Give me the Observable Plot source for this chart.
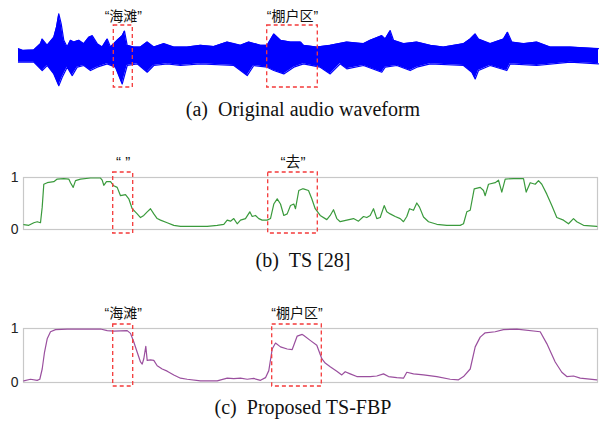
<!DOCTYPE html>
<html><head><meta charset="utf-8">
<script src="https://cdn.jsdelivr.net/npm/d3@7"></script>
<script src="https://cdn.jsdelivr.net/npm/@observablehq/plot@0.6"></script>
<style>
body{margin:0;background:#fff;}
#root{position:relative;width:606px;height:424px;overflow:hidden;background:#fff;}
.panel{position:absolute;left:0;}
.cap{position:absolute;left:0;width:606px;text-align:center;font-family:"Liberation Serif","Times New Roman",serif;font-size:20px;line-height:20px;color:#111;white-space:pre;}
</style></head><body><div id="root"></div>
<script>
// ---- (a) waveform envelope (time in frames, amplitude -1..1)
const waveUpperTime = [-5,-0.7,10.3,17,18.7,23.7,30.3,33,35.3,37.7,40.3,43.7,47,50.3,55.3,60.3,65.3,68.7,73.7,78.7,83.7,87,93.7,98.7,101,103.7,110.3,117,123.7,130.3,140.3,150.3,163.7,177,190.3,203.7,210.3,217,225.3,237,243.7,250.3,257,267,277,280,293.3,306.7,323.3,340,346.7,358.3,361.7,366.7,370,380,393.3,406.7,420,440,446.7,451.7,455,466.7,480,484,488.3,500,513.3,526.7,546.7,575];
const waveUpper = [0.15,0.11,0.12,0.27,0.38,0.23,0.42,0.66,0.98,0.74,0.35,0.19,0.35,0.31,0.35,0.27,0.42,0.46,0.27,0.19,0.38,0.19,0.35,0.46,0.57,0.23,0.19,0.19,0.31,0.19,0.27,0.19,0.19,0.23,0.20,0.31,0.27,0.23,0.31,0.23,0.23,0.50,0.35,0.31,0.31,0.23,0.19,0.23,0.31,0.27,0.35,0.46,0.38,0.58,0.35,0.27,0.31,0.23,0.19,0.27,0.38,0.50,0.38,0.27,0.38,0.54,0.31,0.27,0.31,0.19,0.19,0.15];
const waveLowerTime = [-5,10.3,18.7,23.7,30.3,35.3,38.7,43.7,48.7,53.7,60.3,67,73.7,83.7,92,98.7,103.7,113.7,123.7,130.3,143.7,157,177,210.3,223.7,230.3,243.7,250.3,260.3,270.3,280,296.7,306.7,316.7,323.3,340,358.3,361.7,373.3,386.7,393.3,406.7,440,448.3,451.7,455,466.7,483.3,486.7,513.3,546.7,575];
const waveLower = [-0.17,-0.17,-0.37,-0.25,-0.45,-0.73,-0.53,-0.29,-0.49,-0.29,-0.25,-0.37,-0.29,-0.21,-0.29,-0.69,-0.25,-0.21,-0.41,-0.25,-0.21,-0.25,-0.21,-0.25,-0.49,-0.25,-0.29,-0.37,-0.45,-0.29,-0.21,-0.29,-0.45,-0.21,-0.33,-0.25,-0.41,-0.29,-0.25,-0.37,-0.29,-0.21,-0.25,-0.41,-0.57,-0.37,-0.25,-0.37,-0.21,-0.25,-0.17,-0.21];

// ---- (b) TS [28]
const tsTime = [0.3,5.3,10.3,13.7,17,18.7,20.3,23.7,30.3,33.7,40.3,45.3,47,49.7,52,57,67,77,78.7,80.3,83,87,90.3,93.7,97,102,105.3,108.7,113.7,117,120.3,123.7,127,130.3,133.7,137,143.7,150.3,157,170.3,183.7,193.7,200.3,203.7,207,210.3,213.7,217,222,226.3,228.7,232,235.3,238.7,243.7,247,250.3,253.7,257,260.3,263.7,267,270.3,272,275.3,278.7,280,285,288.3,291.7,296.7,303.3,306.7,310,313.3,316.7,323.3,330,335,340,343.3,346.7,350,353.3,356.7,360.7,363.3,366.7,371.7,376.7,380,383.3,386,390,393.3,396,400,405,413.3,423.3,436.7,440,443.3,446.7,450.7,456.7,460,461.7,465,471.7,475,478.3,481.7,490,500,502.7,506.7,511.7,515,518.3,523.3,528.3,533.3,540,545,550,553.3,560,573.3];
const tsValue = [0.095,0.08,0.13,0.15,0.13,0.43,0.87,0.90,0.92,0.97,0.98,0.97,0.90,0.81,0.94,0.97,0.99,0.99,0.95,0.85,0.92,0.92,0.84,0.81,0.65,0.67,0.59,0.40,0.30,0.23,0.27,0.34,0.40,0.30,0.21,0.18,0.13,0.08,0.06,0.06,0.06,0.08,0.10,0.18,0.16,0.21,0.11,0.18,0.21,0.34,0.25,0.27,0.21,0.18,0.18,0.21,0.49,0.59,0.49,0.27,0.30,0.46,0.49,0.40,0.75,0.78,0.78,0.75,0.59,0.40,0.27,0.19,0.27,0.38,0.21,0.15,0.18,0.21,0.16,0.25,0.23,0.27,0.40,0.21,0.23,0.46,0.34,0.30,0.25,0.21,0.15,0.25,0.40,0.37,0.51,0.43,0.24,0.15,0.10,0.08,0.08,0.11,0.34,0.37,0.78,0.81,0.75,0.65,0.87,0.90,0.95,0.72,0.97,0.98,0.98,0.72,0.90,0.87,0.94,0.87,0.68,0.46,0.23,0.18,0.11,0.21,0.15,0.08,0.06];

// ---- (c) Proposed TS-FBP
const fbpTime = [0.3,7,13.7,16.3,18.7,21,23.7,27,32,43.7,77,83.7,90.3,103.7,107,110.3,113.7,117,118.7,120.3,122.3,123.7,127,130.3,133.7,138.7,143.7,150.3,157,163.7,177,193.7,203.7,210.3,217,223.7,230.3,237,242,245.3,248.7,252,257,263.7,268.7,270.3,273.7,278.7,280,286.7,293.3,298.3,301.7,306.7,313.3,318.3,321.7,326.7,333.3,346.7,353.3,360,365,373.3,380,383.3,390,400,413.3,426.7,435,440,446.7,451.7,456.7,461.7,471.7,480,493.3,516.7,523.3,531.7,538.3,543.3,550,556.7,573.3];
const fbpValue = [0.03,0.06,0.04,0.06,0.25,0.56,0.81,0.94,0.98,0.99,0.99,0.96,0.95,0.96,0.91,0.75,0.56,0.38,0.34,0.44,0.67,0.41,0.42,0.41,0.31,0.25,0.21,0.14,0.08,0.06,0.03,0.03,0.08,0.07,0.08,0.06,0.075,0.04,0.09,0.22,0.62,0.73,0.66,0.62,0.61,0.69,0.86,0.89,0.875,0.78,0.69,0.44,0.36,0.29,0.21,0.14,0.20,0.16,0.11,0.11,0.12,0.16,0.11,0.09,0.08,0.19,0.16,0.14,0.11,0.06,0.05,0.11,0.25,0.66,0.84,0.92,0.94,0.98,0.99,0.94,0.72,0.38,0.19,0.11,0.12,0.08,0.05];

// ---- annotation boxes (time intervals) and labels
const waveBoxStart = [90.3, 243.7], waveBoxEnd = [109.3, 294.3];
const waveLabels = ["\u201C海滩\u201D", "\u201C棚户区\u201D"];
const tsBoxStart = [89.7, 244.7], tsBoxEnd = [109.7, 294.3];
const tsLabels = ["\u201C \u201D", "\u201C去\u201D"];
const fbpBoxStart = [89.7, 248.7], fbpBoxEnd = [109.7, 298.3];
const fbpLabels = ["\u201C海滩\u201D", "\u201C棚户区\u201D"];
const yTicks = [0, 1];
const captions = ["(a)\u2002Original audio waveform", "(b)\u2002TS [28]", "(c)\u2002Proposed TS-FBP"];

const zip = (xs, ys) => xs.map((t, i) => ({t, v: ys[i]}));
const boxes = (s, e, l) => s.map((v, i) => ({start: v, end: e[i], label: l[i]}));
const FONT = "'Liberation Sans','Noto Sans CJK SC',sans-serif";
const RED = "#f43a3a";
const BLUE = "#0000ff";

const root = document.getElementById("root");
function place(node, top) { node.classList.add("panel"); node.style.top = top + "px"; root.appendChild(node); }
function caption(text, top) { const d = document.createElement("div"); d.className = "cap"; d.textContent = text; d.style.top = top + "px"; root.appendChild(d); }

// (a)
const up = zip(waveUpperTime, waveUpper), lo = zip(waveLowerTime, waveLower);
const wb = boxes(waveBoxStart, waveBoxEnd, waveLabels);
const pa = Plot.plot({
  width: 606, height: 100,
  marginLeft: 18, marginRight: 8, marginTop: 12.5, marginBottom: 3.5,
  style: {fontFamily: FONT, background: "transparent", color: "#111"},
  x: {domain: [-5, 575], axis: null},
  y: {domain: [-1, 1], axis: null},
  marks: [
    Plot.areaY(up, {x: "t", y1: 0, y2: "v", fill: BLUE}),
    Plot.areaY(lo, {x: "t", y1: "v", y2: 0, fill: BLUE}),
    Plot.lineY(up, {x: "t", y: "v", stroke: BLUE, strokeWidth: 1.2}),
    Plot.lineY(lo, {x: "t", y: "v", stroke: BLUE, strokeWidth: 1.2}),
    Plot.ruleY([0], {stroke: BLUE, strokeWidth: 4}),
    Plot.rect(wb, {x1: "start", x2: "end", insetTop: 12.5, insetBottom: 9.5, fill: "none", stroke: RED, strokeWidth: 1.3, strokeDasharray: "4,3"}),
    Plot.text(wb, {x: d => (d.start + d.end) / 2, text: "label", frameAnchor: "top", dy: -2, fontSize: 14, fill: "#111"})
  ]
});
place(pa, 0);
caption(captions[0], 99);

// (b)
const tb = boxes(tsBoxStart, tsBoxEnd, tsLabels);
const pb = Plot.plot({
  width: 606, height: 100,
  marginLeft: 23, marginRight: 9, marginTop: 37, marginBottom: 11,
  style: {fontFamily: FONT, background: "transparent", color: "#222"},
  x: {domain: [0, 574], axis: null},
  y: {domain: [0, 1], axis: null},
  marks: [
    Plot.frame({stroke: "#c8c8c8", strokeWidth: 1.2}),
    Plot.axisY(yTicks, {label: null, tickSize: 0, tickPadding: 5, fontSize: 14, tickFormat: d => String(d)}),
    Plot.lineY(zip(tsTime, tsValue), {x: "t", y: "v", stroke: "#3a9a3c", strokeWidth: 1.2}),
    Plot.rect(tb, {x1: "start", x2: "end", insetTop: -5, insetBottom: -4, fill: "none", stroke: RED, strokeWidth: 1.3, strokeDasharray: "4,3"}),
    Plot.text(tb, {x: d => (d.start + d.end) / 2, text: "label", frameAnchor: "top", dy: -21, fontSize: 15, fill: "#111"})
  ]
});
place(pb, 140);
caption(captions[1], 250);

// (c)
const fb = boxes(fbpBoxStart, fbpBoxEnd, fbpLabels);
const pc = Plot.plot({
  width: 606, height: 100,
  marginLeft: 23, marginRight: 9, marginTop: 38, marginBottom: 8,
  style: {fontFamily: FONT, background: "transparent", color: "#222"},
  x: {domain: [0, 574], axis: null},
  y: {domain: [0, 1], axis: null},
  marks: [
    Plot.frame({stroke: "#c8c8c8", strokeWidth: 1.2}),
    Plot.axisY(yTicks, {label: null, tickSize: 0, tickPadding: 5, fontSize: 14, tickFormat: d => String(d)}),
    Plot.lineY(zip(fbpTime, fbpValue), {x: "t", y: "v", stroke: "#9a4f9e", strokeWidth: 1.2}),
    Plot.rect(fb, {x1: "start", x2: "end", insetTop: -4, insetBottom: -4, fill: "none", stroke: RED, strokeWidth: 1.3, strokeDasharray: "4,3"}),
    Plot.text(fb, {x: d => (d.start + d.end) / 2, text: "label", frameAnchor: "top", dy: -20, fontSize: 14, fill: "#111"})
  ]
});
place(pc, 290);
caption(captions[2], 397);
</script></body></html>
